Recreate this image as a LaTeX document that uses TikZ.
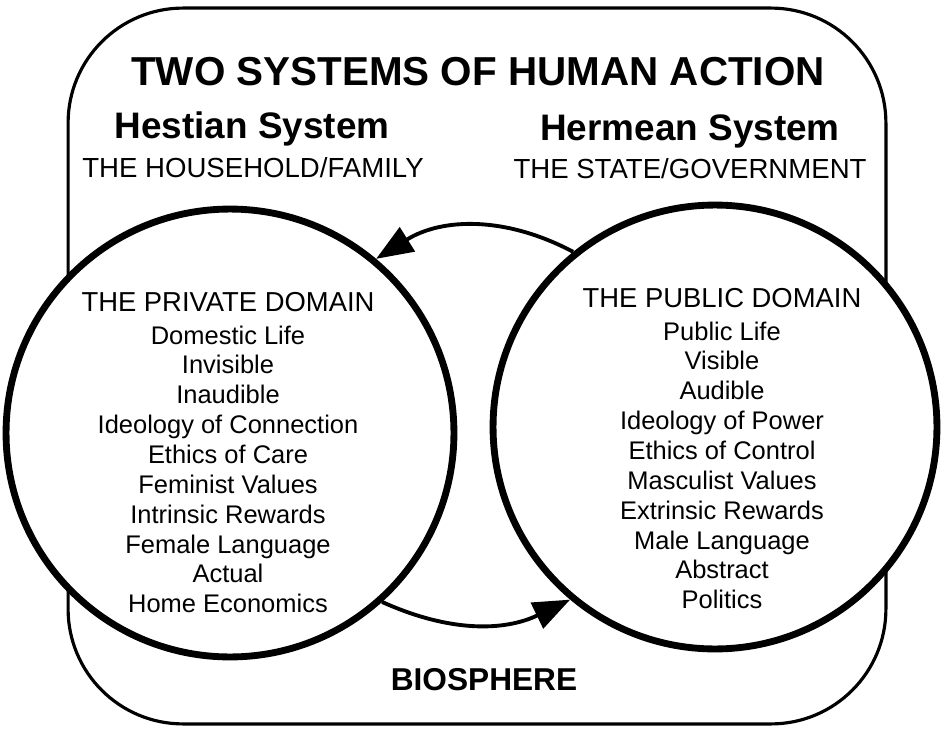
\documentclass[tikz,border=0pt]{standalone}
\usepackage{fontspec}
\setmainfont{Liberation Sans}
\usetikzlibrary{arrows.meta,positioning}
\tikzstyle{systemframe}=[
	rectangle,
	draw,
	line width=1.8pt,
	rounded corners=2.3cm,
	minimum width=16.36cm,
	minimum height=14.32cm
]
\tikzstyle{domaincircle}=[
	circle,
	draw,
	fill=white,
	line width=3.9pt
]
\tikzstyle{flow}=[
	-{Triangle[length=21pt,width=16pt]},
	line width=2.2pt
]
\tikzstyle{headline}=[
	font=\fontsize{23}{26}\selectfont\bfseries,
	inner sep=0pt,
	anchor=base
]
\tikzstyle{sysname}=[
	font=\fontsize{21}{24}\selectfont\bfseries,
	inner sep=0pt,
	anchor=base
]
\tikzstyle{sysdesc}=[
	font=\fontsize{15.7}{18}\selectfont,
	inner sep=0pt,
	anchor=base
]
\tikzstyle{domainlist}=[
	font=\fontsize{14.5}{17}\selectfont,
	align=center,
	inner sep=0pt,
	anchor=north
]

\begin{document}
\begin{tikzpicture}[x=0.02cm,y=-0.02cm]
\useasboundingbox (0,0) rectangle (947,730);
\node [systemframe] (Frame) at (477,366) {};
\node [domaincircle, minimum size=8.96cm] (Private) at (230,433) {};
\node [domaincircle, minimum size=8.88cm] (Public) at (715,427) {};
\draw [flow] (Public.129) to [bend right=30] (Private.50);
\draw [flow] (Private.-48) to [bend right=25] (Public.230);
\node [headline] (Title) at (478,85) {TWO SYSTEMS OF HUMAN ACTION};
\node [sysname] (Hestian) at (252,138) {Hestian System};
\node [sysdesc] (Household) at (253,177) {THE HOUSEHOLD/FAMILY};
\node [sysname] (Hermean) at (690,140) {Hermean System};
\node [sysdesc] (State) at (690,178) {THE STATE/GOVERNMENT};
\node [domainlist] (PrivateList) at (228,292) {{\fontsize{15.6}{17}\selectfont THE PRIVATE DOMAIN}\\[1.5pt]
	Domestic Life\\ Invisible\\ Inaudible\\ Ideology of Connection\\ Ethics of Care\\
	Feminist Values\\ Intrinsic Rewards\\ Female Language\\ Actual\\ Home Economics};
\node [domainlist] (PublicList) at (722,288) {{\fontsize{15.6}{17}\selectfont THE PUBLIC DOMAIN}\\[1.5pt]
	Public Life\\ Visible\\ Audible\\ Ideology of Power\\ Ethics of Control\\
	Masculist Values\\ Extrinsic Rewards\\ Male Language\\ Abstract\\ Politics};
\node [sysdesc, font=\fontsize{18}{20}\selectfont\bfseries] (Biosphere) at (484,690) {BIOSPHERE};
\end{tikzpicture}
\end{document}
